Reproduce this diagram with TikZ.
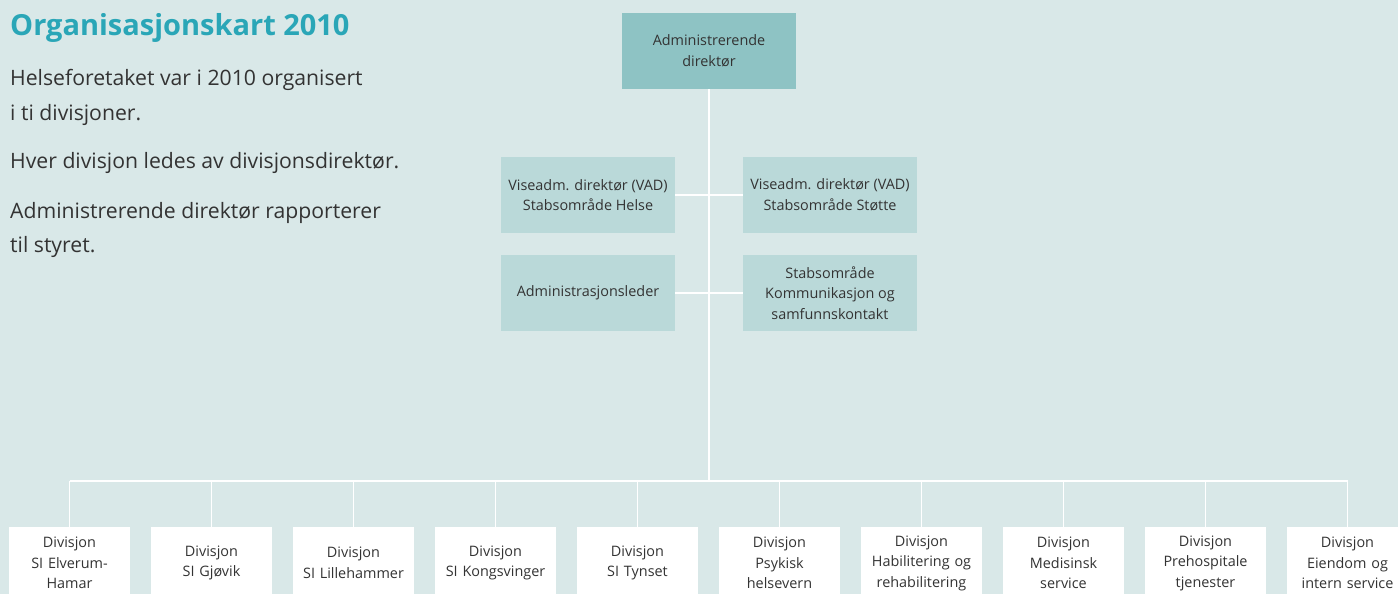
\documentclass[tikz,border=0pt]{standalone}
\usepackage{fontspec}
\setmainfont{Open Sans}
\definecolor{bg}{HTML}{D9E8E8}
\definecolor{topc}{HTML}{8EC3C4}
\definecolor{midc}{HTML}{BAD9D9}
\definecolor{titlec}{HTML}{2AA6B7}
\definecolor{txt}{HTML}{333333}
\begin{document}
\begin{tikzpicture}[x=1pt,y=-1pt,
  box/.style={inner sep=0pt, align=center, text=txt, font=\fontsize{14.4}{20.5}\selectfont},
  topbox/.style={box, fill=topc, minimum width=174pt, minimum height=76pt},
  midbox/.style={box, fill=midc, minimum width=174pt, minimum height=76pt},
  divbox/.style={box, fill=white, minimum width=121pt, minimum height=72pt, text width=121pt},
  link/.style={draw=white, line width=1.6pt},
  para/.style={anchor=base west, inner sep=0pt, text=txt, font=\fontsize{21.2}{24}\selectfont},
]
\useasboundingbox[fill=bg] (0,0) rectangle (1398,594);
\node[anchor=base west, inner sep=0pt, text=titlec, font=\fontsize{29}{32}\bfseries\selectfont] (title) at (10,36) {Organisasjonskart 2010};
\node[para] (p1) at (10,85) {Helseforetaket var i 2010 organisert};
\node[para] (p2) at (10,120) {i ti divisjoner.};
\node[para] (p3) at (10,168) {Hver divisjon ledes av divisjonsdirektør.};
\node[para] (p4) at (10,218) {Administrerende direktør rapporterer};
\node[para] (p5) at (10,252) {til styret.};

\coordinate (bus) at (709,481);
\node[topbox] (ad) at (709,51) {Administrerende\\direktør};
\node[midbox] (vh) at (588,195) {Viseadm. direktør (VAD)\\Stabsområde Helse};
\node[midbox] (vs) at (830,195) {Viseadm. direktør (VAD)\\Stabsområde Støtte};
\node[midbox] (al) at (588,293) {Administrasjonsleder};
\node[midbox] (sk) at (830,293) {Stabsområde\\Kommunikasjon og\\samfunnskontakt};

\foreach \i/\t in {1/{Divisjon\\SI Elverum-\\Hamar},2/{Divisjon\\SI Gjøvik},3/{Divisjon\\SI Lillehammer},4/{Divisjon\\SI Kongsvinger},5/{Divisjon\\SI Tynset},6/{Divisjon\\Psykisk\\helsevern},7/{Divisjon\\Habilitering og\\rehabilitering},8/{Divisjon\\Medisinsk\\service},9/{Divisjon\\Prehospitale\\tjenester},10/{Divisjon\\Eiendom og\\intern service}}{
  \node[divbox] (b\i) at ({69.5+142*(\i-1)},563) {\t};
}

\draw[link] (ad.south) -- (bus);
\draw[link] (vh.east) -- (vs.west);
\draw[link] (al.east) -- (sk.west);
\draw[link] (b1.north |- bus) -- (b10.north |- bus);
\foreach \i in {1,...,10}{
  \draw[link] (b\i.north |- bus) -- (b\i.north);
}
\end{tikzpicture}
\end{document}
